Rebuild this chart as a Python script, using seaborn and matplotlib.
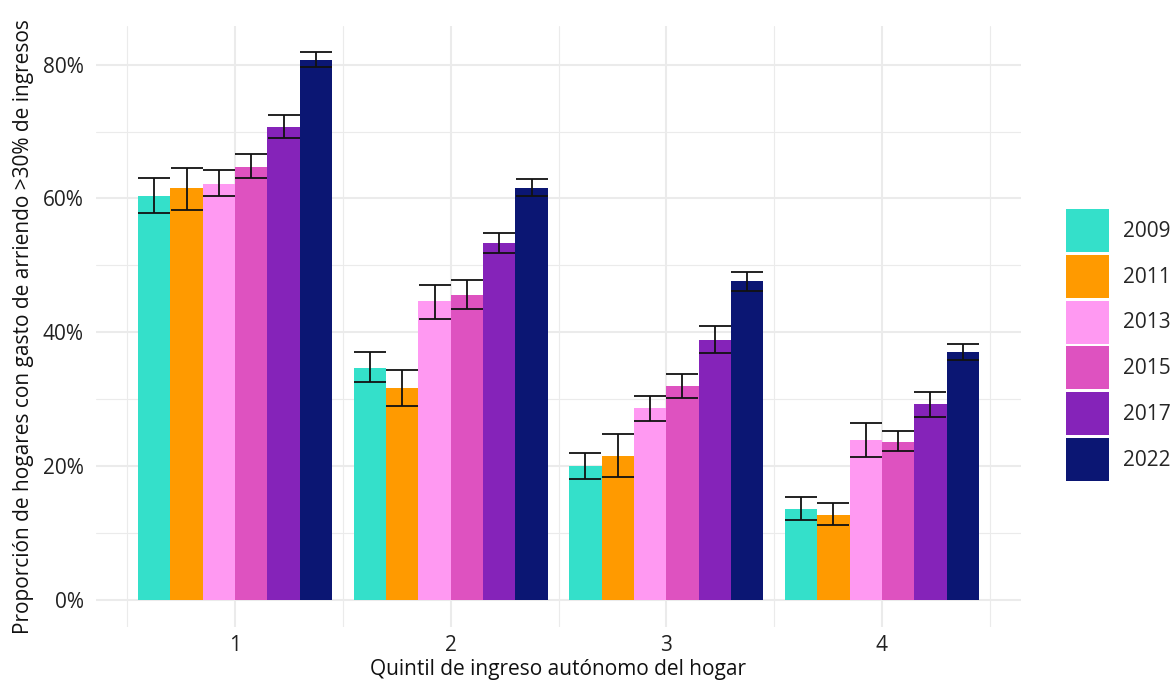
import matplotlib
matplotlib.use("Agg")
import matplotlib.pyplot as plt
import seaborn as sns
import pandas as pd
import numpy as np
from matplotlib.patches import Patch

quintiles = ["1", "2", "3", "4"]
years = ["2009", "2011", "2013", "2015", "2017", "2022"]
colors = ["#34E0CA", "#FF9A00", "#FF99F2", "#DE52C0", "#8523B9", "#0B1673"]

# proportion (%) by year, per quintile 1..4
v2009 = [60.4, 34.7, 20.0, 13.6]
v2011 = [61.5, 31.6, 21.5, 12.7]
v2013 = [62.2, 44.6, 28.6, 23.9]
v2015 = [64.7, 45.6, 32.0, 23.6]
v2017 = [70.7, 53.4, 38.9, 29.2]
v2022 = [80.7, 61.6, 47.6, 37.1]

lo2009 = [57.8, 32.5, 18.0, 11.9]
hi2009 = [63.0, 37.0, 22.0, 15.3]
lo2011 = [58.3, 28.9, 18.4, 11.1]
hi2011 = [64.5, 34.3, 24.7, 14.4]
lo2013 = [60.3, 42.0, 26.7, 21.4]
hi2013 = [64.2, 47.1, 30.4, 26.4]
lo2015 = [63.1, 43.5, 30.1, 22.2]
hi2015 = [66.6, 47.8, 33.8, 25.2]
lo2017 = [69.1, 51.8, 36.9, 27.3]
hi2017 = [72.5, 54.9, 40.9, 31.1]
lo2022 = [79.6, 60.4, 46.1, 35.9]
hi2022 = [81.9, 62.9, 49.0, 38.3]

vals = [v2009, v2011, v2013, v2015, v2017, v2022]
los = [lo2009, lo2011, lo2013, lo2015, lo2017, lo2022]
his = [hi2009, hi2011, hi2013, hi2015, hi2017, hi2022]

rows = []
for y, v, lo, hi in zip(years, vals, los, his):
    for q, a, b, c in zip(quintiles, v, lo, hi):
        rows.append(dict(quintil=q, year=y, value=a, lo=b, hi=c))
df = pd.DataFrame(rows)

sns.set_theme(style="whitegrid")
plt.rcParams["font.family"] = ["Open Sans", "DejaVu Sans"]

FS = 15

fig = plt.figure(figsize=(11.75, 6.89), dpi=100)
ax = fig.add_axes([96 / 1175, 1 - 627 / 689, 925 / 1175, 601 / 689])

sns.barplot(data=df, x="quintil", y="value", hue="year", order=quintiles,
            hue_order=years, palette=colors, width=0.9, errorbar=None,
            saturation=1, linewidth=0, ax=ax, legend=False)

# error bars at bar centres
for i, y in enumerate(years):
    cont = ax.containers[i]
    xs = [p.get_x() + p.get_width() / 2 for p in cont.patches]
    sub = df[df.year == y].set_index("quintil").loc[quintiles]
    mid = (sub["lo"].values + sub["hi"].values) / 2
    half = (sub["hi"].values - sub["lo"].values) / 2
    ax.errorbar(xs, mid, yerr=half, fmt="none", ecolor="#111111",
                elinewidth=1.3, capsize=11.5, capthick=1.3, zorder=5)

ax.set_xlim(-0.645, 3.645)
ax.set_ylim(-4.1, 85.8)
ax.set_yticks([0, 20, 40, 60, 80])
ax.set_yticklabels(["0%", "20%", "40%", "60%", "80%"])
ax.set_yticks([10, 30, 50, 70], minor=True)
ax.set_xticks([-0.5, 0.5, 1.5, 2.5, 3.5], minor=True)

ax.set_facecolor("white")
for s in ax.spines.values():
    s.set_visible(False)
ax.grid(which="major", color="#EBEBEB", linewidth=1.5)
ax.grid(which="minor", color="#EBEBEB", linewidth=0.8)
ax.set_axisbelow(True)
ax.tick_params(which="both", length=0, labelsize=FS, colors="#222222")
ax.tick_params(axis="y", pad=9)
ax.tick_params(axis="x", pad=6)

ax.set_xlabel("Quintil de ingreso autónomo del hogar", fontsize=FS, color="#111111", labelpad=2)
ax.set_ylabel("Proporción de hogares con gasto de arriendo >30% de ingresos", fontsize=FS,
              color="#111111", labelpad=6)

handles = [Patch(facecolor=c, edgecolor="none", label=y) for c, y in zip(colors, years)]
fig.legend(handles=handles, loc="center left", bbox_to_anchor=(1066 / 1175, 1 - 345 / 689),
           frameon=False, fontsize=FS, handlelength=2.07, handleheight=2.80,
           labelspacing=0.13, handletextpad=0.67, borderaxespad=0, borderpad=0)

fig.savefig("out.png", dpi=100)
